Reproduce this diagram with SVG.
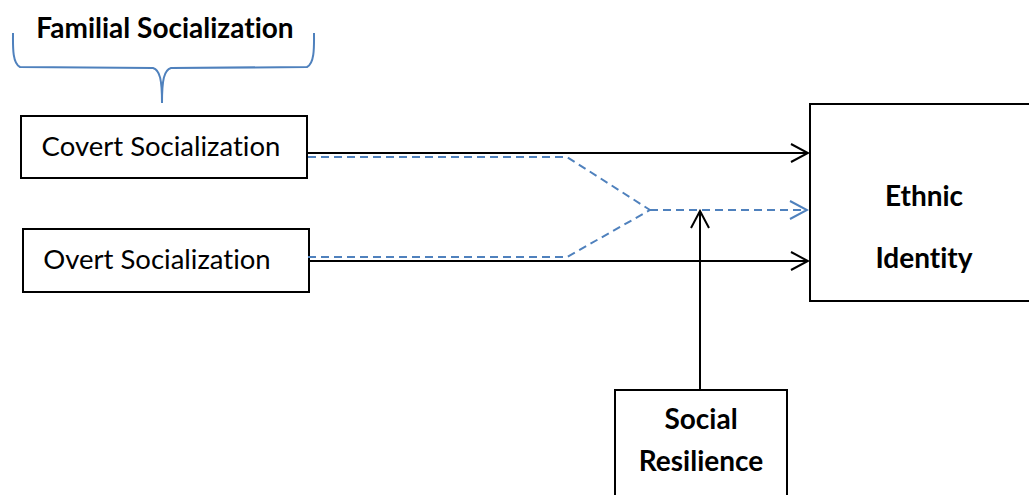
<svg xmlns="http://www.w3.org/2000/svg" width="1029" height="495" viewBox="0 0 1029 495">
<defs>
<style>
.box{fill:#fff;stroke:#000;stroke-width:2}
.t{font-family:Lato,"Open Sans","Liberation Sans",sans-serif;fill:#000;font-variant-ligatures:none;font-feature-settings:"liga" 0,"dlig" 0}
.n{font-size:27.5px}
.b{font-size:28px;font-weight:bold}
.solid{fill:none;stroke:#000;stroke-width:2}
.dash{fill:none;stroke:#4f81bd;stroke-width:2;stroke-dasharray:8 5}
.brace{fill:none;stroke:#4f81bd;stroke-width:2}
</style>
<marker id="ab" viewBox="0 0 20 20" refX="18" refY="10" markerWidth="20" markerHeight="20" markerUnits="userSpaceOnUse" orient="auto">
<path d="M1,1 L18,10 L1,19" fill="none" stroke="#000" stroke-width="2"/>
</marker>
<marker id="abl" viewBox="0 0 20 20" refX="18" refY="10" markerWidth="20" markerHeight="20" markerUnits="userSpaceOnUse" orient="auto">
<path d="M1,1 L18,10 L1,19" fill="none" stroke="#4f81bd" stroke-width="2"/>
</marker>
</defs>
<rect width="1029" height="495" fill="#fff"/>
<g id="familial">
<path class="brace" d="M13,33 C13,45 12,63 20,67 L153,68 C160,70 162,80 162,103 M314,33 C314,45 315,63 307,67 L171,68 C164,70 162,80 162,103"/>
<text class="t b" x="165" y="38" text-anchor="middle">Familial Socialization</text>
</g>
<g id="covert">
<rect class="box" x="21" y="116" width="286" height="62"/>
<text class="t n" x="161" y="156" text-anchor="middle">Covert Socialization</text>
</g>
<g id="overt">
<rect class="box" x="23" y="229" width="286" height="63"/>
<text class="t n" x="157" y="269" text-anchor="middle">Overt Socialization</text>
</g>
<g id="ethnic">
<rect class="box" x="810" y="104" width="230" height="197"/>
<text class="t b" x="924" y="206" text-anchor="middle">Ethnic</text>
<text class="t b" x="924" y="268" text-anchor="middle">Identity</text>
</g>
<g id="resilience">
<rect class="box" x="615" y="390" width="172" height="120"/>
<text class="t b" x="701" y="429" text-anchor="middle" font-size="27">Social</text>
<text class="t b" x="701" y="471" text-anchor="middle" font-size="27">Resilience</text>
</g>
<g id="connectors">
<path class="dash" d="M308,157 L567,157 L650,210"/>
<path class="dash" d="M308,257 L567,257 L650,210"/>
<path class="dash" d="M650,210 L807,210" marker-end="url(#abl)"/>
<path class="solid" d="M307,153 L808,153" marker-end="url(#ab)"/>
<path class="solid" d="M309,261 L808,261" marker-end="url(#ab)"/>
<path class="solid" d="M700,390 L700,211" marker-end="url(#ab)"/>
</g>
</svg>
